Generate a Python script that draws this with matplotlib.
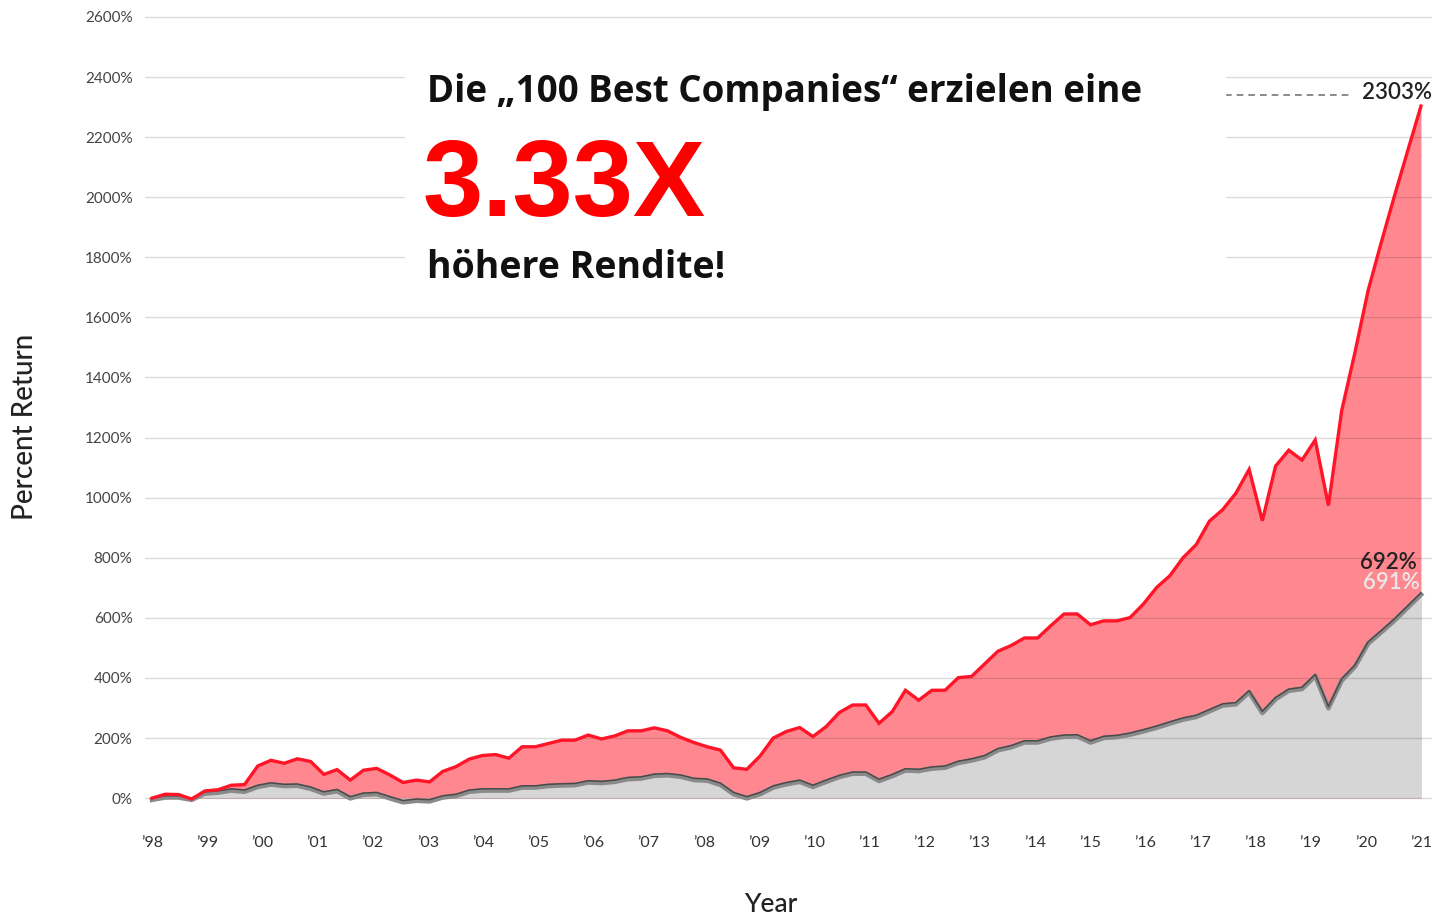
import numpy as np
import matplotlib
matplotlib.use("Agg")
import matplotlib.pyplot as plt
import matplotlib.transforms as mtransforms
from matplotlib.patches import Rectangle

# percent return, roughly quarterly from 1998 to 2021
best100 = [0, 13, 12, -3, 24, 28, 43, 45, 107, 126, 116, 131, 122, 79, 95, 60,
           93, 99, 77, 52, 60, 54, 89, 105, 130, 142, 145, 133, 171, 171, 182, 193,
           193, 210, 197, 207, 224, 224, 234, 224, 202, 185, 171, 160, 101, 96, 140, 200,
           222, 235, 205, 238, 285, 310, 310, 249, 288, 359, 326, 359, 359, 401, 405, 447,
           489, 508, 533, 533, 574, 613, 613, 577, 590, 590, 601, 646, 701, 740, 800, 844,
           922, 960, 1015, 1094, 923, 1105, 1158, 1125, 1192, 974, 1289, 1482, 1689, 1850, 2005, 2155,
           2303]
sp500 = [0, 8, 8, 0, 21, 24, 31, 27, 43, 51, 46, 47, 37, 21, 29, 5,
         17, 19, 5, -8, -3, -5, 8, 13, 27, 31, 31, 31, 41, 41, 46, 48,
         49, 58, 56, 60, 69, 71, 80, 82, 77, 66, 64, 50, 19, 5, 19, 41,
         52, 60, 43, 60, 76, 87, 87, 63, 79, 98, 96, 104, 107, 123, 131, 142,
         165, 175, 191, 191, 204, 210, 211, 191, 206, 209, 217, 228, 240, 254, 267, 276,
         295, 314, 318, 358, 289, 335, 363, 369, 412, 305, 397, 443, 520, 558, 597, 640,
         683]
years = list(range(1998, 2022))
year_labels = ["\u2019" + str(y)[2:] for y in years]
y_ticks = list(range(0, 2601, 200))

x = np.linspace(1998, 2021, len(best100))

fig = plt.figure(figsize=(14.32, 9.15), dpi=100)
ax = fig.add_axes([145 / 1432, (915 - 830) / 915, 1287 / 1432, 820 / 915])

ax.fill_between(x, best100, 0, color="#ff8890", lw=0, zorder=1)
ax.fill_between(x, sp500, 0, color="#d6d6d6", lw=0, zorder=2)
for v in y_ticks:
    ax.axhline(v, color="k", alpha=0.14, lw=1, zorder=3)

ax.plot(x, best100, color="#ff1428", lw=2.4, zorder=5, solid_joinstyle="miter")
shift = mtransforms.offset_copy(ax.transData, fig=fig, x=0, y=-1.2, units="points")
ax.plot(x, sp500, color="#8a8a8a", lw=3.4, zorder=4, transform=shift)
ax.plot(x, sp500, color="#4a4a4a", lw=1.1, zorder=4.5)

ax.set_xlim(1997.873, 2021.2)
ax.set_ylim(-106, 2623)
ax.set_xticks(years)
ax.set_xticklabels(year_labels, fontsize=11.5, color="#333333", family="Lato")
ax.set_yticks(y_ticks)
ax.set_yticklabels([f"{v}%" for v in y_ticks], fontsize=11, color="#444444", family="Lato")
ax.tick_params(length=0)
ax.tick_params(axis="y", pad=9)
ax.tick_params(axis="x", pad=4)
for s in ax.spines.values():
    s.set_visible(False)

fig.text(771 / 1432, 1 - 905 / 915, "Year", fontsize=19, fontweight="medium",
         color="#222222", family="Lato", ha="center", va="center")
fig.text(25 / 1432, 1 - 427 / 915, "Percent Return", rotation=90, fontsize=20,
         fontweight="medium", color="#222222", family="Lato", ha="center", va="center")

# white box behind the headline
fig.patches.append(Rectangle((405 / 1432, 1 - 300 / 915), 820 / 1432, 240 / 915,
                             transform=fig.transFigure, color="white", zorder=10))
fig.text(427 / 1432, 1 - 92 / 915, "Die \u201e100 Best Companies\u201c erzielen eine",
         fontsize=26.5, fontweight="bold", color="#111111", family="Open Sans",
         ha="left", va="center", zorder=11)
fig.text(423 / 1432, 1 - 188 / 915, "3.33X", fontsize=78, fontweight="bold",
         color="#ff0000", family="Liberation Sans", ha="left", va="center", zorder=11)
fig.text(427 / 1432, 1 - 268 / 915, "h\u00f6here Rendite!", fontsize=27, fontweight="bold",
         color="#111111", family="Open Sans", ha="left", va="center", zorder=11)

# end labels
ax.plot([2017.45, 2019.71], [2340, 2340], color="#777777", lw=1.2, ls=(0, (4, 3)), zorder=6)
ax.text(2021.2, 2350, "2303%", fontsize=16, fontweight="semibold", color="#222222",
        family="Lato", ha="right", va="center", zorder=6)
ax.text(2020.93, 785, "692%", fontsize=16, fontweight="semibold", color="#222222",
        family="Lato", ha="right", va="center", zorder=6)
ax.text(2020.97, 719, "691%", fontsize=16, fontweight="semibold", color="#e8e8e8",
        family="Lato", ha="right", va="center", zorder=6)

fig.savefig("out.png", dpi=100, facecolor="white")
